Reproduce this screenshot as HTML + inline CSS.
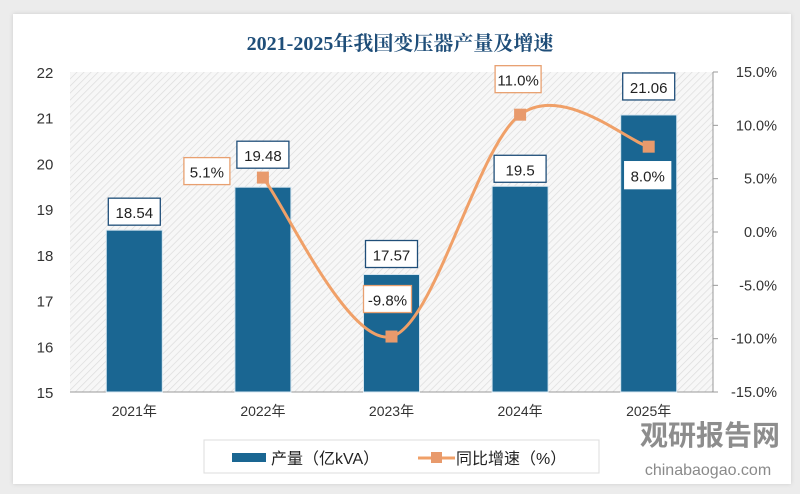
<!DOCTYPE html>
<html><head><meta charset="utf-8">
<style>
body{margin:0;width:800px;height:494px;background:#ececec;overflow:hidden;font-family:"Liberation Sans","Noto Sans CJK SC",sans-serif;}
#card{position:absolute;left:13px;top:14px;width:778px;height:470px;background:#fff;box-shadow:0 0 4px #ccc;}
</style></head><body>
<div id="card"></div>
<svg id="chart" width="800" height="494" style="position:absolute;left:0;top:0">
<defs>
<pattern id="hatch" width="5" height="5" patternUnits="userSpaceOnUse" patternTransform="rotate(45)">
<rect width="5" height="5" fill="#f7f7f7"/><line x1="0" y1="0" x2="0" y2="5" stroke="#dcdcdc" stroke-width="1.4"/>
</pattern>
</defs>
<text x="400" y="50" text-anchor="middle" font-family="'Liberation Serif','Noto Serif CJK SC',serif" font-weight="bold" font-size="20" fill="#1f4e79">2021-2025年我国变压器产量及增速</text>
<g id="plot"></g>
<text x="710" y="445" text-anchor="middle" font-family="'Liberation Sans','Noto Sans CJK SC',sans-serif" font-weight="bold" font-size="28" fill="#7a7a7a" opacity="0.85">观研报告网</text>
<text x="708" y="475" text-anchor="middle" font-size="16" fill="#8a8a8a">chinabaogao.com</text>
</svg>
<script>
const categories=["2021年","2022年","2023年","2024年","2025年"];
const production=[18.54,19.48,17.57,19.5,21.06];
const productionLabels=["18.54","19.48","17.57","19.5","21.06"];
const growth=[null,5.1,-9.8,11.0,8.0];
const growthLabels=["","5.1%","-9.8%","11.0%","8.0%"];
const leftTicks=[15,16,17,18,19,20,21,22];
const rightTicks=[-15,-10,-5,0,5,10,15];

const NS="http://www.w3.org/2000/svg";
const g=document.getElementById('plot');
const L=70,R=713,T=72,B=392;
const xBand=(R-L)/categories.length;
const xs=i=>L+xBand*(i+0.5);
const yL=v=>B-(v-15)/(22-15)*(B-T);
const yR=v=>B-(v+15)/30*(B-T);
function mk(tag,attrs,parent){const e=document.createElementNS(NS,tag);for(const k in attrs)e.setAttribute(k,attrs[k]);(parent||g).appendChild(e);return e;}

const bg=mk('rect',{x:L,y:T,width:R-L,height:B-T,fill:'url(#hatch)'});


const ax=mk('line',{x1:L,y1:B,x2:R,y2:B,stroke:'#999','stroke-width':1});


const ra=mk('line',{x1:R,y1:T,x2:R,y2:B,stroke:'#999','stroke-width':1});



leftTicks.forEach(v=>{const t=mk('text',{x:45,y:yL(v)+6,'text-anchor':'middle','font-size':15,fill:'#333'});t.textContent=v;

});
rightTicks.forEach(v=>{const y=yR(v);mk('line',{x1:R,y1:y,x2:R+5,y2:y,stroke:'#999'});
const t=mk('text',{x:777,y:y+5,'text-anchor':'end','font-size':14.5,fill:'#333'});t.textContent=v.toFixed(1)+'%';

});
categories.forEach((c,i)=>{const t=mk('text',{x:xs(i),y:416,'text-anchor':'middle','font-size':14,fill:'#333'});t.textContent=c;

});

const bw=56;
production.forEach((v,i)=>{const r=mk('rect',{x:xs(i)-bw/2,y:yL(v),width:bw,height:B-yL(v),fill:'#1a6692',stroke:'#d6e6f0','stroke-width':1});

});

function label(txt,cx,cy,color,w){const b=mk('rect',{x:cx-w/2,y:cy-14,width:w,height:27,fill:'#fff',stroke:color,'stroke-width':1.3});


const t=mk('text',{x:cx,y:cy+6,'text-anchor':'middle','font-size':15,fill:'#222'});t.textContent=txt;

}

// smooth line through growth points (cardinal spline)
const pts=[];growth.forEach((v,i)=>{if(v!==null)pts.push([xs(i),yR(v)]);});
let d='M'+pts[0][0]+','+pts[0][1];
for(let i=0;i<pts.length-1;i++){const p0=pts[i-1]||pts[i],p1=pts[i],p2=pts[i+1],p3=pts[i+2]||p2;const k=1/3;
d+=' C'+(p1[0]+(p2[0]-p0[0])*k/2)+','+(p1[1]+(p2[1]-p0[1])*k/2)+' '+(p2[0]-(p3[0]-p1[0])*k/2)+','+(p2[1]-(p3[1]-p1[1])*k/2)+' '+p2[0]+','+p2[1];}
const ln=mk('path',{d:d,fill:'none',stroke:'#f0a068','stroke-width':3});


pts.forEach(p=>{const m=mk('rect',{x:p[0]-6,y:p[1]-6,width:12,height:12,fill:'#e89a6c'});

});

const barOff=[-18,-32,-20,-17,-28];
production.forEach((v,i)=>label(productionLabels[i],xs(i),yL(v)+barOff[i],'#1f4e79',52));
const off=[null,[-56,-6],[-4,-37],[-2,-35],[-1,29]];
growth.forEach((v,i)=>{if(v===null)return;label(growthLabels[i],xs(i)+off[i][0],yR(v)+off[i][1],i===4?'#fff':'#e8a070',i===2?48:46);});

// legend
const lb=mk('rect',{x:204,y:440,width:395,height:33,fill:'#fff',stroke:'#ddd'});


const s1=mk('rect',{x:232,y:453,width:34,height:9,fill:'#1a6692'});


const t1=mk('text',{x:271,y:464,'font-size':16,fill:'#222'});t1.textContent='产量（亿kVA）';


const s2=mk('line',{x1:418,y1:458,x2:455,y2:458,stroke:'#f0a068','stroke-width':3});


mk('rect',{x:431,y:452,width:11,height:11,fill:'#e89a6c'});
const t2=mk('text',{x:456,y:464,'font-size':16,fill:'#222'});t2.textContent='同比增速（%）';


</script>
</body></html>
